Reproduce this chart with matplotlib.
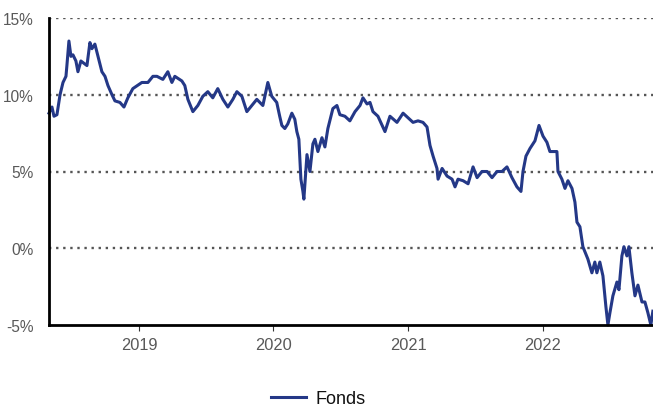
import matplotlib
matplotlib.use("Agg")
import matplotlib.pyplot as plt
import matplotlib.dates as mdates
from matplotlib.ticker import FixedLocator, FuncFormatter
import datetime as dt

plt.rcParams['font.family'] = ['Liberation Sans', 'DejaVu Sans']

# Time in decimal years, fund performance in %
years = [
    2018.332, 2018.354, 2018.369, 2018.391, 2018.414, 2018.436, 2018.458, 2018.465, 2018.480, 2018.495,
    2018.510, 2018.532, 2018.547, 2018.569, 2018.584, 2018.614, 2018.636, 2018.651, 2018.673, 2018.696,
    2018.725, 2018.748, 2018.770, 2018.800, 2018.822, 2018.859, 2018.889, 2018.918, 2018.955, 2019.022,
    2019.067, 2019.104, 2019.134, 2019.178, 2019.215, 2019.245, 2019.267, 2019.319, 2019.341, 2019.364,
    2019.401, 2019.438, 2019.475, 2019.512, 2019.549, 2019.586, 2019.624, 2019.661, 2019.698, 2019.728,
    2019.765, 2019.802, 2019.839, 2019.876, 2019.921, 2019.958, 2019.987, 2020.024, 2020.046, 2020.062,
    2020.084, 2020.106, 2020.136, 2020.158, 2020.173, 2020.188, 2020.203, 2020.218, 2020.225, 2020.233,
    2020.248, 2020.270, 2020.292, 2020.307, 2020.329, 2020.359, 2020.381, 2020.403, 2020.440, 2020.470,
    2020.492, 2020.529, 2020.566, 2020.604, 2020.641, 2020.663, 2020.693, 2020.715, 2020.737, 2020.774,
    2020.826, 2020.863, 2020.915, 2020.960, 2020.997, 2021.034, 2021.071, 2021.108, 2021.138, 2021.160,
    2021.183, 2021.212, 2021.220, 2021.250, 2021.287, 2021.324, 2021.346, 2021.368, 2021.406, 2021.443,
    2021.480, 2021.510, 2021.546, 2021.584, 2021.621, 2021.658, 2021.695, 2021.732, 2021.769, 2021.806,
    2021.836, 2021.851, 2021.873, 2021.903, 2021.940, 2021.970, 2022.000, 2022.029, 2022.051, 2022.073,
    2022.103, 2022.111, 2022.140, 2022.163, 2022.185, 2022.215, 2022.237, 2022.252, 2022.274, 2022.296,
    2022.333, 2022.363, 2022.385, 2022.400, 2022.422, 2022.445, 2022.467, 2022.482, 2022.497, 2022.519,
    2022.549, 2022.564, 2022.586, 2022.601, 2022.623, 2022.638, 2022.660, 2022.683, 2022.705, 2022.735,
    2022.757, 2022.779, 2022.801, 2022.816,
]
fonds = [
    8.8, 9.2, 8.6, 8.7, 10.0, 10.8, 11.2, 11.9, 13.5, 12.5,
    12.6, 12.2, 11.5, 12.2, 12.1, 11.9, 13.4, 13.0, 13.3, 12.5,
    11.5, 11.2, 10.6, 10.0, 9.6, 9.5, 9.2, 9.8, 10.4, 10.8,
    10.8, 11.2, 11.2, 11.0, 11.5, 10.8, 11.2, 10.9, 10.6, 9.7,
    8.9, 9.3, 9.9, 10.2, 9.8, 10.4, 9.7, 9.2, 9.7, 10.2,
    9.9, 8.9, 9.3, 9.7, 9.3, 10.8, 9.9, 9.5, 8.6, 8.0,
    7.8, 8.1, 8.8, 8.4, 7.6, 7.1, 4.5, 3.7, 3.2, 4.2,
    6.1, 5.0, 6.8, 7.1, 6.3, 7.2, 6.6, 7.8, 9.1, 9.3,
    8.7, 8.6, 8.3, 8.9, 9.3, 9.8, 9.4, 9.5, 8.9, 8.6,
    7.6, 8.6, 8.2, 8.8, 8.5, 8.2, 8.3, 8.2, 7.9, 6.7,
    6.0, 5.2, 4.5, 5.2, 4.7, 4.5, 4.0, 4.5, 4.4, 4.2,
    5.3, 4.6, 5.0, 5.0, 4.6, 5.0, 5.0, 5.3, 4.6, 4.0,
    3.7, 5.0, 6.0, 6.5, 7.0, 8.0, 7.3, 6.9, 6.3, 6.3,
    6.3, 5.0, 4.5, 3.9, 4.4, 3.9, 3.0, 1.7, 1.4, 0.1,
    -0.7, -1.6, -0.9, -1.6, -0.9, -1.8, -3.8, -5.0, -4.2, -3.1,
    -2.2, -2.7, -0.5, 0.1, -0.5, 0.1, -1.6, -3.1, -2.4, -3.5,
    -3.5, -4.2, -5.0, -4.1,
]
year_ticks = [2019, 2020, 2021, 2022]
y_ticks = [-5, 0, 5, 10, 15]
series_name = "Fonds"


def to_date(y):
    base = dt.datetime(int(y), 1, 1)
    nxt = dt.datetime(int(y) + 1, 1, 1)
    return base + (nxt - base) * (y - int(y))


dates = [to_date(y) for y in years]

fig = plt.figure(figsize=(6.53, 4.10), dpi=100)
ax = fig.add_axes([49 / 653, 1 - 326 / 410, 1 - 49 / 653, (326 - 19) / 410])

line_color = '#243887'
ax.plot(dates, fonds, color=line_color, lw=2.2, label=series_name, zorder=3,
        solid_joinstyle='round', clip_on=False)

ax.set_xlim(to_date(2018.332), to_date(2022.817))
ax.set_ylim(-5, 15)

ax.xaxis.set_major_locator(FixedLocator([mdates.date2num(dt.datetime(y, 1, 1)) for y in year_ticks]))
ax.xaxis.set_major_formatter(FuncFormatter(lambda v, p: mdates.num2date(v).strftime('%Y')))
ax.yaxis.set_major_locator(FixedLocator(y_ticks))
ax.yaxis.set_major_formatter(FuncFormatter(lambda v, p: f"{v:.0f}%"))

for v in y_ticks[1:]:
    ax.axhline(v, color='#555555', lw=1.7, ls=(0, (1, 2.0)), zorder=1)

for s in ['top', 'right']:
    ax.spines[s].set_visible(False)
for s in ['left', 'bottom']:
    ax.spines[s].set_color('black')
    ax.spines[s].set_linewidth(2.0)
    ax.spines[s].set_zorder(4)

ax.tick_params(axis='y', length=0, pad=11, labelsize=11.2, labelcolor='#595959')
ax.tick_params(axis='x', length=4, width=0.8, color='#333333', pad=5, labelsize=11.8,
               labelcolor='#595959')

leg = fig.legend(loc='center left', bbox_to_anchor=(271 / 653, 1 - 400 / 410), frameon=False,
                 fontsize=13, handlelength=1.95, handletextpad=0.5, borderpad=0, borderaxespad=0)
for h in leg.legend_handles:
    h.set_linewidth(2.2)
for t in leg.get_texts():
    t.set_color('#111111')

fig.savefig('out.png', dpi=100)
